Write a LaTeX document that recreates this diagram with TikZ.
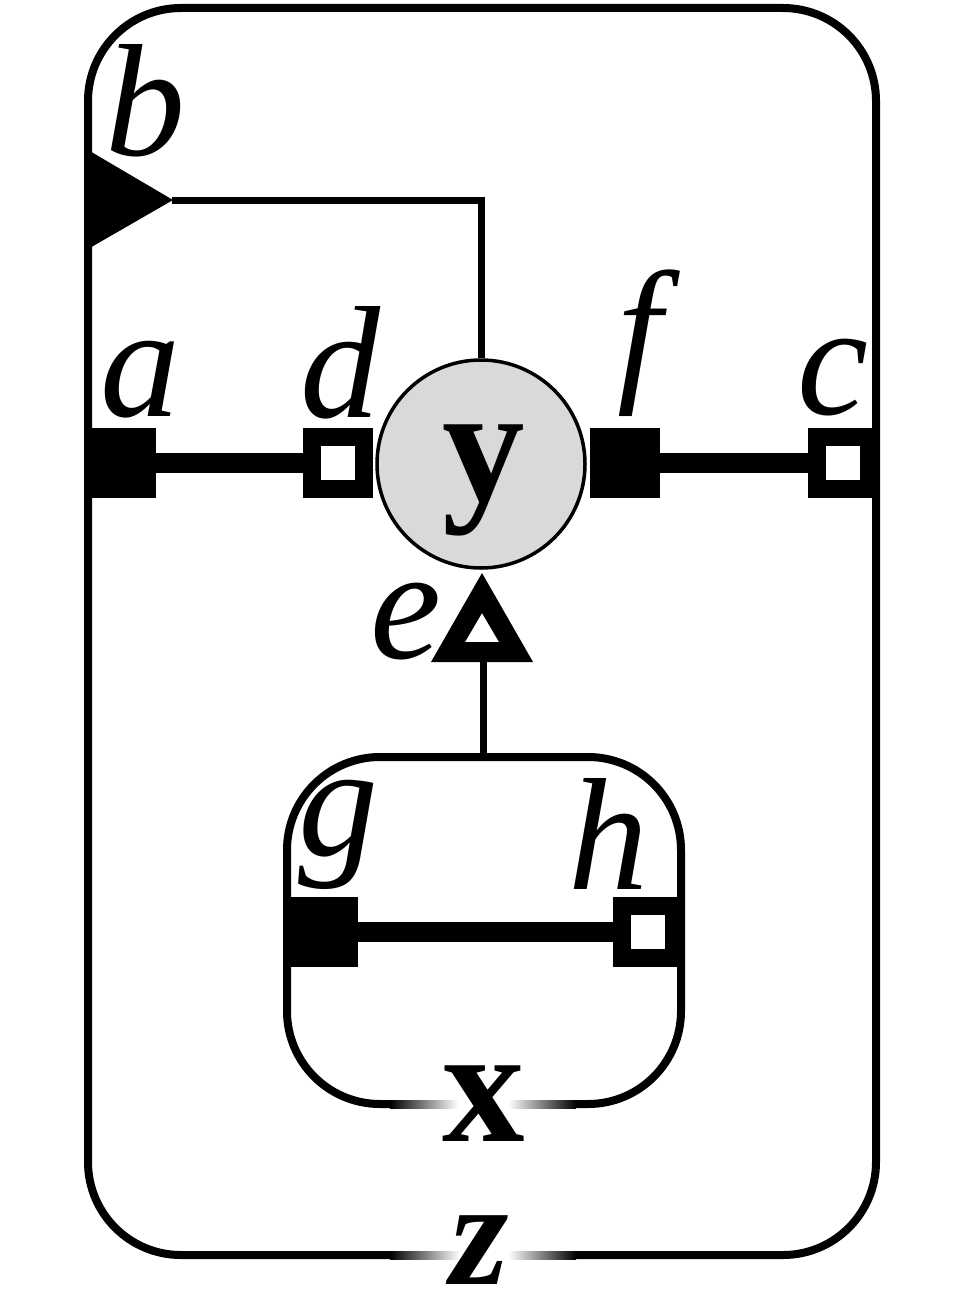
\documentclass[tikz,border=0pt]{standalone}
\usepackage{fontspec}
\setmainfont{Liberation Serif}
\usetikzlibrary{positioning}
\tikzset{
  border/.style={line width=8pt},
  thin/.style={line width=7pt},
  thick/.style={line width=20pt},
  fullsq/.style={rectangle,fill=black,minimum size=70pt,inner sep=0pt},
  hollowsq/.style={rectangle,fill=white,draw=black,line width=18pt,minimum size=52pt,inner sep=0pt},
  lbl/.style={inner sep=0pt,font=\fontsize{160}{160}\selectfont\itshape},
  bigb/.style={inner sep=0pt,font=\fontsize{165}{165}\selectfont\bfseries},
  bigbi/.style={inner sep=0pt,font=\fontsize{150}{150}\selectfont\bfseries\itshape},
}
\begin{document}
\begin{tikzpicture}[x=1pt,y=-1pt]
\useasboundingbox (0,0) rectangle (964,1300);
% outer plate
\draw[border,rounded corners=93] (392,1255) -- (88,1255) -- (88,8) -- (876,8) -- (876,1255) -- (573,1255);
\shade[left color=black,right color=white] (390,1251) rectangle (460,1259);
\shade[left color=white,right color=black] (508,1251) rectangle (576,1259);
% inner plate
\draw[border,rounded corners=93] (392,1104) -- (287,1104) -- (287,757) -- (681,757) -- (681,1104) -- (573,1104);
\shade[left color=black,right color=white] (390,1100) rectangle (458,1108);
\shade[left color=white,right color=black] (508,1100) rectangle (576,1108);
\coordinate (innertop) at (483,757);
% circle y
\node[circle,draw=black,line width=3.5pt,fill=black!15,minimum size=208pt,inner sep=0pt] (yc) at (481,464) {};
\node[bigb] (ylab) at (484,480) {y};
% b triangle
\fill (88,150) -- (173,200) -- (88,249) -- cycle;
\coordinate (btip) at (172,200);
\draw[thin] (btip) -| (yc.north);
% e triangle
\fill[even odd rule] (431,662) -- (482,573) -- (533,662) -- cycle (465,642) -- (482,613) -- (499,642) -- cycle;
\coordinate (ebase) at (483,660);
\draw[thin] (ebase) -- (innertop);
% squares
\node[fullsq] (a) at (121,463) {};
\node[hollowsq] (d) at (338,463) {};
\node[fullsq] (f) at (625,463) {};
\node[hollowsq] (c) at (843,463) {};
\node[fullsq] (g) at (323,932) {};
\node[hollowsq] (h) at (648,932) {};
\draw[thick] (a.east) -- (d.west);
\draw[thick] (f.east) -- (c.west);
\draw[thick] (g.east) -- (h.west);
% labels
\node[lbl,anchor=south] (lb) at (145,157) {b};
\node[lbl,anchor=south] (la) at (140,418) {a};
\node[lbl,anchor=south] (ld) at (340,419) {d};
\node[lbl,anchor=south] (lf) at (640,417) {f};
\node[lbl,anchor=south] (lc) at (833,416) {c};
\node[lbl,anchor=east] (le) at (442,622) {e};
\node[lbl,anchor=south] (lg) at (338,890) {g};
\node[lbl,anchor=south] (lh) at (608,890) {h};
\node[bigb] (lx) at (484,1104) {x};
\node[bigbi] (lz) at (480,1250) {z};
\end{tikzpicture}
\end{document}
